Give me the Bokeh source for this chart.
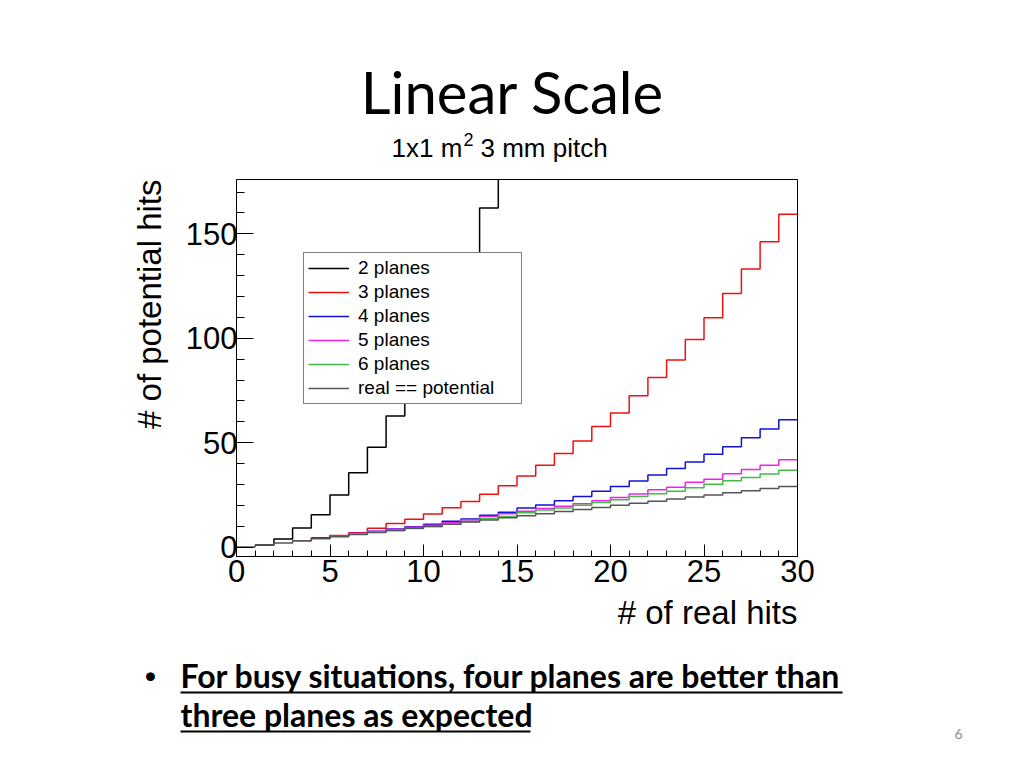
import numpy as np
from bokeh.plotting import figure
from bokeh.layouts import column, row
from bokeh.models import Range1d, FixedTicker, Label
from bokeh.embed import file_html
from bokeh.resources import INLINE

# ---------------- data ----------------
series_names = ["2 planes", "3 planes", "4 planes", "5 planes", "6 planes", "real == potential"]
series_colors = ["#000000", "#ee1111", "#1111dd", "#ee22ee", "#44bb44", "#555555"]
first_bin = [1, 3, 4, 5, 6, 0]   # lower edge of first filled bin (# of real hits)

two_planes = [1.0, 3.9, 9.2, 15.5, 25.0, 35.6, 47.8, 62.8, 80.0, 99.0, 119.0, 138.7, 162.3, 188.0]
three_planes = [3.1, 4.4, 5.5, 6.9, 9.0, 11.3, 13.3, 15.9, 18.9, 21.8, 25.3, 29.4, 34.1, 39.2,
                44.8, 50.8, 57.7, 64.2, 72.5, 81.2, 89.6, 99.4, 109.8, 121.4, 133.1, 146.2, 159.4]
four_planes = [4.3, 5.4, 6.5, 7.6, 8.7, 9.8, 10.9, 12.4, 13.5, 15.2, 16.7, 18.7, 20.2, 22.2,
               24.2, 26.7, 29.0, 31.6, 34.5, 37.6, 40.7, 44.4, 48.0, 52.4, 56.6, 61.0]
five_planes = [5.3, 6.5, 7.5, 8.5, 9.5, 10.5, 11.7, 13.0, 14.6, 16.0, 17.2, 18.5, 19.5, 20.8,
               22.2, 23.7, 25.4, 27.5, 28.7, 31.0, 32.5, 35.1, 37.1, 39.2, 41.8]
six_planes = [6.4, 7.4, 7.9, 8.9, 9.8, 11.0, 12.3, 13.6, 14.7, 16.5, 17.8, 18.7, 20.0, 21.3,
              22.7, 24.2, 25.5, 26.8, 28.4, 30.1, 31.8, 33.3, 35.0, 36.8]
real_potential = [0, 1, 2, 3, 4, 5, 6, 7, 8, 9, 10, 11, 12, 13, 14, 15, 16, 17, 18, 19,
                  20, 21, 22, 23, 24, 25, 26, 27, 28, 29]
series_values = [two_planes, three_planes, four_planes, five_planes, six_planes, real_potential]

x_major_ticks = [0, 5, 10, 15, 20, 25, 30]
x_minor_ticks = [0, 1, 2, 3, 4, 5, 6, 7, 8, 9, 10, 11, 12, 13, 14, 15, 16, 17, 18, 19,
                 20, 21, 22, 23, 24, 25, 26, 27, 28, 29, 30]
y_major_ticks = [0, 50, 100, 150]
y_minor_ticks = [0, 10, 20, 30, 40, 50, 60, 70, 80, 90, 100, 110, 120, 130, 140, 150, 160, 170]

title_text = "Linear Scale"
subtitle_parts = ["1x1 m", "2", "3 mm pitch"]
x_title = "# of real hits"
y_title = "# of potential hits"
bullet_lines = ["For busy situations, four planes are better than", "three planes as expected"]
page_number = "6"

# ---------------- page geometry (pixels) ----------------
W = 1008
TOP_H = 170          # strip with title + subtitle
LEFT_W = 172         # strip with y-axis title
CHART_BOTTOM = 595   # page y where chart figure ends
PAGE_H = 752
BASE_SHIFT = 0.38    # svg text baseline correction (fraction of font size)


def text_strip(x0, x1, y0, y1):
    f = figure(width=x1 - x0, height=y1 - y0, output_backend="svg", toolbar_location=None,
               x_range=Range1d(x0, x1), y_range=Range1d(y1, y0),
               x_axis_type=None, y_axis_type=None, min_border=0)
    f.outline_line_color = None
    f.background_fill_color = "white"
    f.border_fill_color = "white"
    f.xgrid.visible = False
    f.ygrid.visible = False
    return f


def lbl(f, text, x, y, size, font="Liberation Sans", align="left", color="black",
        style="normal", vertical=False):
    shift = BASE_SHIFT * size
    if vertical:
        x, angle = x - shift, np.pi / 2
    else:
        y, angle = y - shift, 0.0
    f.add_layout(Label(x=x, y=y, text=text, text_font=font, text_font_size=f"{size}px",
                       text_align=align, text_baseline="alphabetic", text_color=color,
                       text_font_style=style, angle=angle))


# ---- top strip ----
top = text_strip(0, W, 0, TOP_H)
lbl(top, title_text, 512, 113, 58, font="Lato", align="center")
lbl(top, subtitle_parts[0], 391, 157, 26)
lbl(top, subtitle_parts[1], 463, 146, 18)
lbl(top, subtitle_parts[2], 480, 157, 26)

# ---- left strip (y title) ----
left = text_strip(0, LEFT_W, TOP_H, CHART_BOTTOM)
lbl(left, y_title, 162, 170, 33, align="right", vertical=True)

# ---- chart ----
chart_w = W - LEFT_W
p = figure(width=chart_w, height=CHART_BOTTOM - TOP_H, output_backend="svg",
           toolbar_location=None, x_range=Range1d(0, 30), y_range=Range1d(-4.5, 176))
p.min_border_left = 236 - LEFT_W
p.min_border_right = chart_w - (797 - LEFT_W)
p.min_border_top = 179 - TOP_H
p.min_border_bottom = CHART_BOTTOM - 556
p.background_fill_color = "white"
p.border_fill_color = "white"
p.outline_line_color = "black"
p.outline_line_width = 1
p.xgrid.visible = False
p.ygrid.visible = False

for ax, maj, mnr, tin, mtin, stand in [(p.xaxis[0], x_major_ticks, x_minor_ticks, 12, 6, 3),
                                       (p.yaxis[0], y_major_ticks, y_minor_ticks, 17, 8, -1)]:
    ax.ticker = FixedTicker(ticks=maj, minor_ticks=mnr)
    ax.major_tick_in = tin
    ax.major_tick_out = 0
    ax.minor_tick_in = mtin
    ax.minor_tick_out = 0
    ax.axis_line_color = "black"
    ax.major_tick_line_color = "black"
    ax.minor_tick_line_color = "black"
    ax.major_label_text_font = "Liberation Sans"
    ax.major_label_text_font_size = "31px"
    ax.major_label_text_color = "black"
    ax.major_label_standoff = stand

for name, color, start, vals in zip(series_names, series_colors, first_bin, series_values):
    xs = [start + i for i in range(len(vals) + 1)]
    ys = list(vals) + [vals[-1]]
    p.step(xs, ys, mode="after", line_color=color, line_width=1.5, legend_label=name)

lg = p.legend[0]
lg.location = (67, 152)
lg.border_line_color = "black"
lg.border_line_width = 1
lg.background_fill_color = "white"
lg.background_fill_alpha = 1.0
lg.label_text_font = "Liberation Sans"
lg.label_text_font_size = "19px"
lg.label_text_color = "black"
lg.padding = 4
lg.spacing = 2
lg.margin = 0
lg.label_height = 20
lg.glyph_height = 20
lg.glyph_width = 41
lg.label_standoff = 9
lg.label_width = 159

# ---- bottom strip ----
bottom = text_strip(0, W, CHART_BOTTOM, PAGE_H)
lbl(bottom, x_title, 797, 625, 33, align="right")
lbl(bottom, "\u2022", 150, 683, 24, font="Lato", align="center")
lbl(bottom, bullet_lines[0], 180, 687, 32, font="Lato", style="bold")
lbl(bottom, bullet_lines[1], 180, 726, 32, font="Lato", style="bold")
lbl(bottom, page_number, 958, 739, 14, font="Lato", align="center", color="#8c8c8c")
underline_x0 = [180, 180]
underline_x1 = [842, 530]
underline_y = [692, 731]
bottom.segment(x0=underline_x0, x1=underline_x1, y0=underline_y, y1=underline_y,
               line_color="black", line_width=2)

layout = column(top, row(left, p), bottom)
open("out.html", "w").write(file_html(layout, INLINE))
